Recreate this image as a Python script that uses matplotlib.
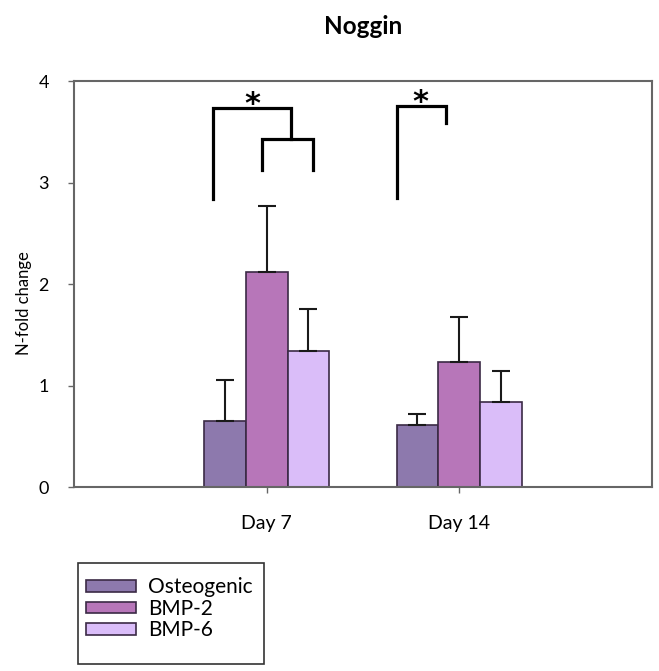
import numpy as np
import matplotlib
matplotlib.use("Agg")
import matplotlib.pyplot as plt
from matplotlib.patches import Rectangle

plt.rcParams['font.family'] = ['Lato', 'DejaVu Sans']

# expression data (mean and upper SD)
days = ['Day 7', 'Day 14']
groups = ['Osteogenic', 'BMP-2', 'BMP-6']
means = {
    'Osteogenic': [0.65, 0.61],
    'BMP-2': [2.12, 1.23],
    'BMP-6': [1.34, 0.84],
}
errors = {
    'Osteogenic': [0.40, 0.11],
    'BMP-2': [0.65, 0.45],
    'BMP-6': [0.41, 0.30],
}
colors = ['#8d79ad', '#b776b9', '#dabdf9']

# significance brackets: (x0, x1, y_top, y_left_end, y_right_end)
brackets = [
    (0.723, 1.124, 3.73, 2.84, 3.43),
    (0.976, 1.240, 3.43, 3.12, 3.12),
    (1.675, 1.933, 3.75, 2.85, 3.59),
]
stars = [(0.924, 3.77), (1.798, 3.79)]

fig = plt.figure(figsize=(6.59, 6.71), dpi=100)
ax = fig.add_axes([0.1123, 0.2742, 0.877, 0.605])

x = np.arange(1, len(days) + 1)
width = 0.217
for i, (g, c) in enumerate(zip(groups, colors)):
    pos = x + (i - 1) * width
    ax.bar(pos, means[g], width, color=c, edgecolor='#3b2a45', linewidth=1.2, label=g, zorder=2)
    ax.errorbar(pos, means[g], yerr=[np.zeros(len(days)), errors[g]], fmt='none',
                ecolor='#1a1a1a', elinewidth=1.5, capsize=6.5, capthick=1.5, zorder=3)

for x0, x1, yt, yl, yr in brackets:
    ax.plot([x0, x0, x1, x1], [yl, yt, yt, yr], color='black', lw=2.3,
            solid_joinstyle='miter', zorder=4)
for sx, sy in stars:
    ax.text(sx, sy, '*', ha='center', va='center', fontsize=22, fontweight='bold',
            family='DejaVu Sans')

ax.set_xlim(0, 3)
ax.set_ylim(0, 4)
ax.set_xticks(x)
ax.set_xticklabels(days, fontsize=14)
ax.set_yticks([0, 1, 2, 3, 4])
ax.set_yticklabels(['0', '1', '2', '3', '4'], fontsize=13)
ax.set_ylabel('N-fold change', fontsize=12)
ax.yaxis.set_label_coords(-0.072, 0.453)
for sp in ax.spines.values():
    sp.set_color('#666666')
    sp.set_linewidth(1.5)
ax.tick_params(axis='both', color='#666666', length=4, width=1)
ax.tick_params(axis='x', pad=16)
ax.tick_params(axis='y', pad=14)

fig.text(363 / 659, 1 - 26 / 671, 'Noggin', ha='center', va='center',
         fontsize=17.5, fontweight='bold')

# legend box drawn separately so the padding can be set freely
fig.patches.append(Rectangle((78 / 659, 1 - 664 / 671), 186 / 659, 101 / 671,
                             transform=fig.transFigure, fill=False,
                             edgecolor='#333333', linewidth=1.2))
leg = fig.legend(loc='upper left', bbox_to_anchor=(82 / 659, 1 - 573 / 671),
                 fontsize=15, frameon=False, handlelength=2.4,
                 handleheight=0.5, labelspacing=0.08, borderpad=0.2,
                 borderaxespad=0, handletextpad=0.55)

plt.savefig('out.png', dpi=100)
